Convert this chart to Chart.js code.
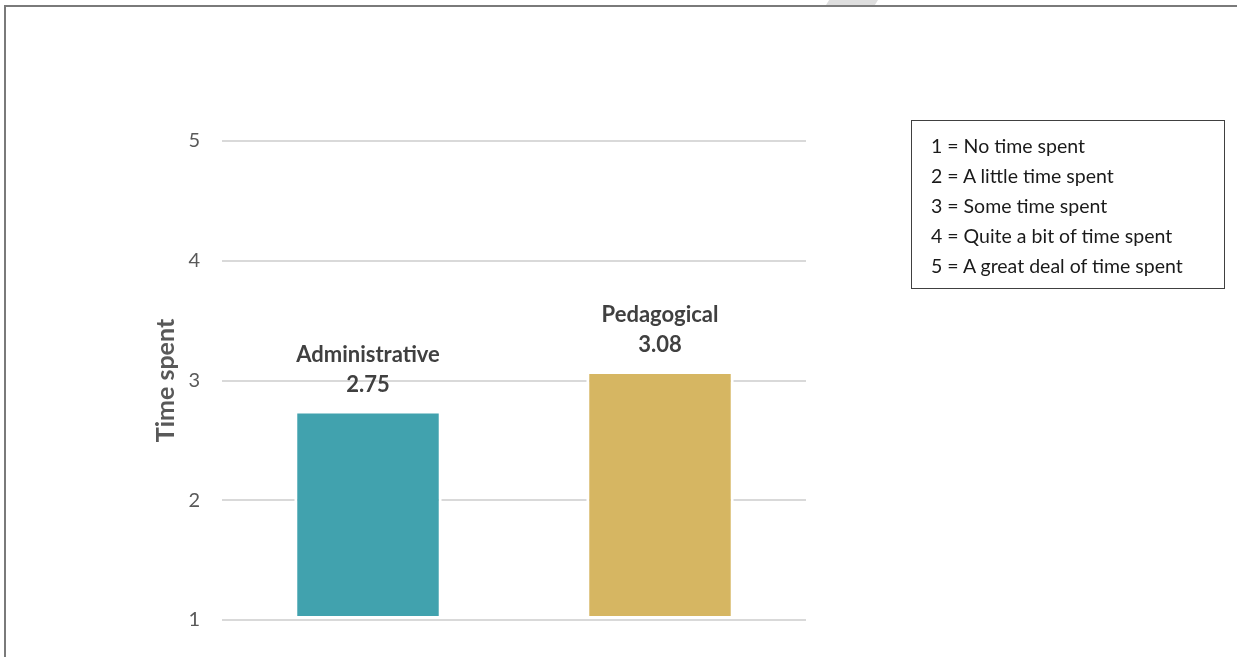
<!DOCTYPE html>
<html>
<head>
<meta charset="utf-8">
<script src="https://cdn.jsdelivr.net/npm/chart.js@4/dist/chart.umd.min.js"></script>
<style>
  html, body { margin: 0; padding: 0; background: #fff; }
  #wrap { position: relative; width: 1237px; height: 657px; overflow: hidden; }
  #frame { position: absolute; left: 4px; top: 5px; right: -2px; bottom: -2px;
           border-top: 2px solid #7a7a7a; border-left: 2px solid #7a7a7a; }
  #smudge { position: absolute; left: 826px; top: 0; width: 52px; height: 5px; background: #dedede;
            clip-path: polygon(6% 0, 100% 0, 94% 100%, 0 100%); }
  #key { position: absolute; left: 911px; top: 120px; width: 314px; height: 169px;
         border: 1px solid #404040; box-sizing: border-box; padding: 11px 0 0 19px;
         font-family: Lato, "Liberation Sans", sans-serif; font-size: 19.5px; color: #1a1a1a; }
  #key div { height: 30px; line-height: 27px; white-space: nowrap; }
  canvas { position: absolute; left: 0; top: 0; }
</style>
</head>
<body>
<div id="wrap">
  <div id="frame"></div>
  <div id="smudge"></div>
  <canvas id="chart" width="1237" height="657"></canvas>
  <div id="key"></div>
</div>
<script>
// chart values
const categories = ["Administrative", "Pedagogical"];
const values = [2.75, 3.08];
const barColors = ["#41a2ae", "#d6b662"];
const yTicks = [1, 2, 3, 4, 5];
const keyLines = [
    "1 = No time spent",
    "2 = A little time spent",
    "3 = Some time spent",
    "4 = Quite a bit of time spent",
    "5 = A great deal of time spent",
];

const FONT = "Lato, 'Liberation Sans', sans-serif";

document.getElementById("key").innerHTML = keyLines.map((t) => "<div>" + t + "</div>").join("");

// category name + value over each bar
const barLabels = {
    id: "barLabels",
    afterDatasetsDraw(chart) {
        const ctx = chart.ctx;
        const meta = chart.getDatasetMeta(0);
        ctx.save();
        ctx.fillStyle = "#404040";
        ctx.font = "bold 22px " + FONT;
        ctx.textAlign = "center";
        ctx.textBaseline = "middle";
        meta.data.forEach((bar, i) => {
            ctx.fillText(values[i].toFixed(2), bar.x, bar.y - 26);
            ctx.fillText(categories[i], bar.x, bar.y - 56);
        });
        ctx.restore();
    },
};

new Chart(document.getElementById("chart"), {
    type: "bar",
    data: {
        labels: categories,
        datasets: [
            {
                data: values,
                backgroundColor: barColors,
                borderColor: "#ffffff",
                borderWidth: 3,
                borderSkipped: false,
                barPercentage: 0.505,
                categoryPercentage: 1,
                base: 1,
            },
        ],
    },
    options: {
        responsive: false,
        animation: false,
        layout: { padding: { left: 151, right: 431, top: 141, bottom: 37 } },
        plugins: { legend: { display: false }, tooltip: { enabled: false } },
        scales: {
            x: { display: false },
            y: {
                min: 1,
                max: 5,
                afterBuildTicks: (s) => { s.ticks = yTicks.map((v) => ({ value: v })); },
                afterFit: (s) => { s.width = 71; },
                border: { display: false },
                grid: { color: "#d9d9d9", lineWidth: 2, drawTicks: false },
                ticks: { color: "#595959", font: { family: FONT, size: 20 }, padding: 22 },
                title: {
                    display: true,
                    text: "Time spent",
                    color: "#595959",
                    font: { family: FONT, size: 25, weight: "bold" },
                    padding: 0,
                },
            },
        },
    },
    plugins: [barLabels],
});
</script>
</body>
</html>
